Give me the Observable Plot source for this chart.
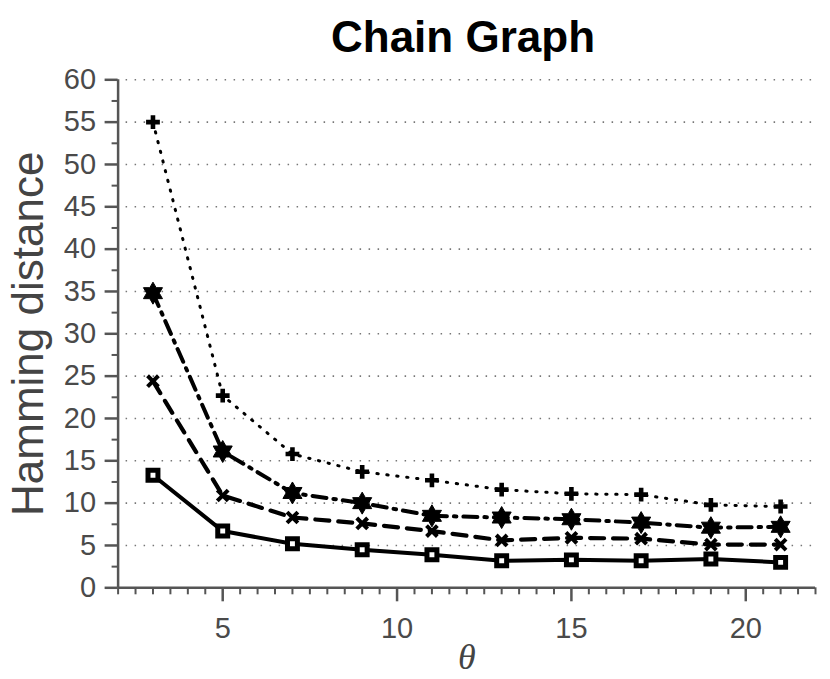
<!DOCTYPE html>
<html>
<head>
<meta charset="utf-8">
<script src="https://cdn.jsdelivr.net/npm/d3@7"></script>
<script src="https://cdn.jsdelivr.net/npm/@observablehq/plot@0.6"></script>
<style>
  html, body { margin: 0; padding: 0; background: #fff; }
  #title { height: 47px; padding-top: 15px; box-sizing: content-box;
           font: bold 44px "Liberation Sans", Arial, sans-serif; line-height: 1;
           text-align: center; padding-left: 96px; width: 734px; color: #000; white-space: nowrap; }
  #chart svg { display: block; overflow: visible; }
</style>
</head>
<body>
<div id="title">Chain Graph</div>
<div id="chart"></div>
<script>
// ---- data ----
const theta = [3, 5, 7, 9, 11, 13, 15, 17, 19, 21];
const seriesSquare = [13.3, 6.7, 5.2, 4.5, 3.9, 3.2, 3.3, 3.2, 3.4, 3.0];
const seriesTimes  = [24.4, 10.9, 8.3, 7.6, 6.7, 5.6, 5.9, 5.8, 5.1, 5.1];
const seriesStar   = [34.8, 16.1, 11.2, 10.0, 8.5, 8.3, 8.1, 7.7, 7.1, 7.2];
const seriesPlus   = [55.0, 22.7, 15.8, 13.7, 12.7, 11.6, 11.1, 11.0, 9.8, 9.6];

const xTicks = [5, 10, 15, 20];
const xMinorTicks = d3.range(2, 22.001, 0.5).filter(v => v % 5 !== 0);
const yTicks = [0, 5, 10, 15, 20, 25, 30, 35, 40, 45, 50, 55, 60];
const yMinorTicks = d3.range(2.5, 60, 5);
const gridLines = [5, 10, 15, 20, 25, 30, 35, 40, 45, 50, 55, 60];

const titleText = "Chain Graph";
const yLabel = "Hamming distance";
const xLabel = "θ";

// ---- build rows ----
const mk = (vals) => theta.map((t, i) => ({theta: t, value: vals[i]}));
const dSquare = mk(seriesSquare), dTimes = mk(seriesTimes), dStar = mk(seriesStar), dPlus = mk(seriesPlus);

// six-pointed star (hexagram) symbol
const hexagram = {
  draw(ctx, size) {
    const R = Math.sqrt(size / Math.PI), r = R / Math.sqrt(3);
    for (let k = 0; k < 12; k++) {
      const a = -Math.PI / 2 + k * Math.PI / 6, rr = k % 2 === 0 ? R : r;
      const x = rr * Math.cos(a), y = rr * Math.sin(a);
      if (k === 0) ctx.moveTo(x, y); else ctx.lineTo(x, y);
    }
    ctx.closePath();
  }
};

const axisColor = "#4a4a4a";
const FONT = '"Liberation Sans", Arial, sans-serif';

const chart = Plot.plot({
  width: 830,
  height: 617,
  marginTop: 17.3,
  marginBottom: 91.7,
  marginLeft: 117.6,
  marginRight: 15,
  style: {fontFamily: FONT, background: "white"},
  x: {domain: [2, 22]},
  y: {domain: [0, 60]},
  marks: [
    Plot.ruleY(gridLines, {stroke: "#777", strokeWidth: 1.6, strokeDasharray: "1.5,7.5", insetLeft: 8}),
    // axes lines
    Plot.ruleY([0], {stroke: "#555", strokeWidth: 2.5}),
    Plot.ruleX([2], {stroke: "#555", strokeWidth: 2.5}),
    // ticks
    Plot.axisX({ticks: xMinorTicks, tickSize: 7, tickFormat: () => "", stroke: "#555", strokeWidth: 2, label: null}),
    Plot.axisX({ticks: xTicks, tickSize: 14, tickPadding: 16, fontSize: 29, color: axisColor, stroke: "#555", strokeWidth: 2.5, label: null}),
    Plot.axisY({ticks: yMinorTicks, tickSize: 6, tickFormat: () => "", stroke: "#555", strokeWidth: 2, label: null}),
    Plot.axisY({ticks: yTicks, tickSize: 13, tickPadding: 9, fontSize: 29, color: axisColor, stroke: "#555", strokeWidth: 2.5, label: null}),
    // lines
    Plot.line(dPlus,   {x: "theta", y: "value", stroke: "black", strokeWidth: 3, strokeDasharray: "1.3,8.7"}),
    Plot.line(dStar,   {x: "theta", y: "value", stroke: "black", strokeWidth: 4, strokeDasharray: "14,7,2.5,7"}),
    Plot.line(dTimes,  {x: "theta", y: "value", stroke: "black", strokeWidth: 4.2, strokeDasharray: "14,9"}),
    Plot.line(dSquare, {x: "theta", y: "value", stroke: "black", strokeWidth: 4}),
    // markers
    Plot.dot(dPlus,   {x: "theta", y: "value", symbol: "cross", r: 5.8, fill: "black", stroke: "none"}),
    Plot.dot(dStar,   {x: "theta", y: "value", symbol: hexagram, r: 11, fill: "black", stroke: "black", strokeWidth: 1}),
    Plot.dot(dTimes,  {x: "theta", y: "value", symbol: "times", r: 5, stroke: "black", strokeWidth: 4}),
    Plot.dot(dSquare, {x: "theta", y: "value", symbol: "square", r: 5.6, fill: "white", stroke: "black", strokeWidth: 5}),
    // axis labels
    Plot.text([yLabel], {frameAnchor: "left", textAnchor: "middle", rotate: -90, dx: 28 - 117.6, fontSize: 44, fill: "#444", lineAnchor: "middle"}),
    Plot.text([xLabel], {frameAnchor: "bottom", dy: 70, fontSize: 36, fontStyle: "italic", fontFamily: '"Liberation Serif", "DejaVu Serif", serif', fill: "#444", lineAnchor: "middle"})
  ]
});
document.getElementById("title").textContent = titleText;
document.getElementById("chart").appendChild(chart);
</script>
</body>
</html>
